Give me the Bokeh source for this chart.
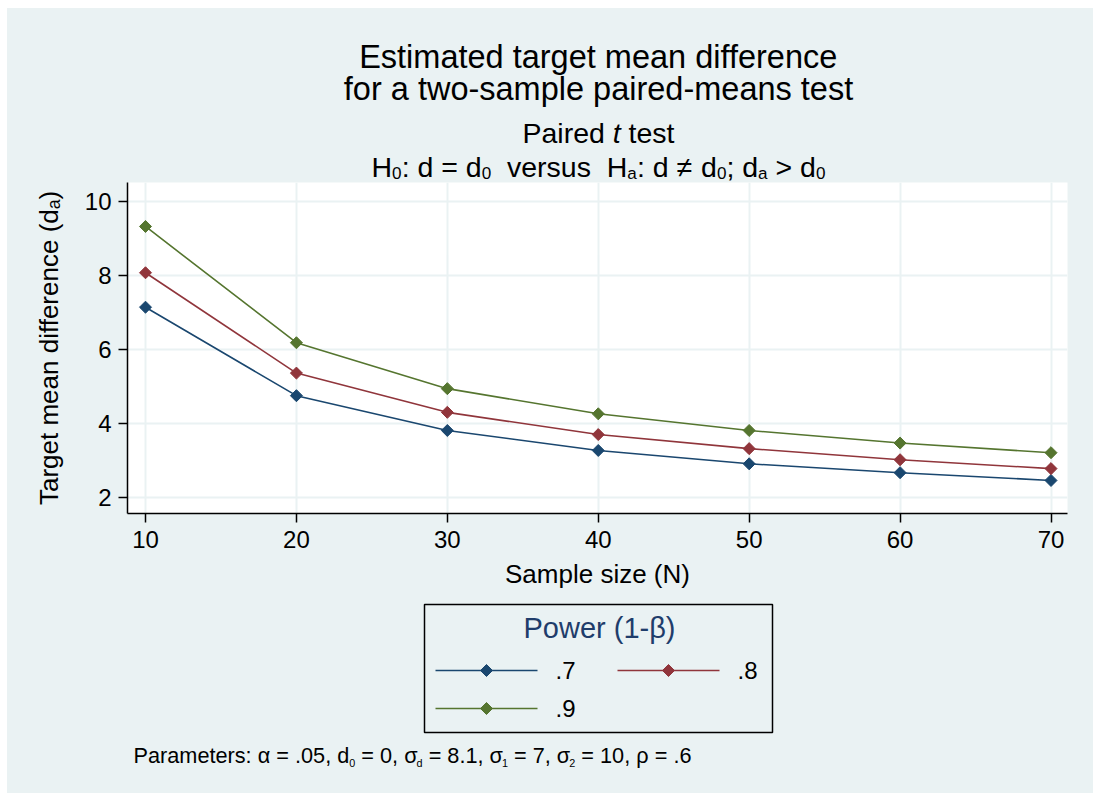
import math
from bokeh.plotting import figure
from bokeh.layouts import column
from bokeh.models import Range1d, FixedTicker, Label
from bokeh.embed import file_html
from bokeh.resources import INLINE

# ---------------- data ----------------
sample_size = [10, 20, 30, 40, 50, 60, 70]
power_labels = [".7", ".8", ".9"]
delta_p70 = [7.14, 4.75, 3.81, 3.27, 2.91, 2.67, 2.46]
delta_p80 = [8.07, 5.36, 4.30, 3.70, 3.32, 3.02, 2.78]
delta_p90 = [9.32, 6.18, 4.94, 4.26, 3.81, 3.47, 3.21]
x_ticks = [10, 20, 30, 40, 50, 60, 70]
y_ticks = [2, 4, 6, 8, 10]
series_colors = ["#1a476f", "#90353b", "#55752f"]

# ---------------- layout constants (image pixels) ----------------
BG = "#eaf2f3"
FONT = "Liberation Sans"
OX, OY = 7, 8                      # white strip left / top
FL, FR, FT, FB = 127, 1067, 182, 513   # plot frame
MB = 602                           # bottom of main plot block
PX10, PX70 = 145.0, 1050.5
PY10, PY2 = 200.8, 497.0
KB = 0.36                          # rendered baseline offset (fraction of font size)

xs = (PX70 - PX10) / 60.0
x0 = 10 - (PX10 - FL) / xs
x1 = 70 + (FR - PX70) / xs
ys = (PY2 - PY10) / 8.0
y1 = 10 + (PY10 - FT) / ys
y0 = 2 - (FB - PY2) / ys

W = {' ': 278, '!': 278, '(': 333, ')': 333, ',': 278, '-': 333, '.': 278,
     ':': 278, ';': 278, '=': 584, '>': 584, 'A': 667, 'E': 667, 'H': 722,
     'N': 722, 'P': 667, 'S': 667, 'T': 611, 'a': 556, 'b': 556, 'c': 500,
     'd': 556, 'e': 556, 'f': 278, 'g': 556, 'h': 556, 'i': 222, 'j': 222,
     'k': 500, 'l': 222, 'm': 833, 'n': 556, 'o': 556, 'p': 556, 'q': 556,
     'r': 333, 's': 500, 't': 278, 'u': 556, 'v': 500, 'w': 722, 'x': 500,
     'y': 500, 'z': 500, 'α': 578, 'β': 575, 'σ': 571, 'ρ': 578, '≠': 584}
for _d in "0123456789":
    W[_d] = 556


def tw(s, size):
    return sum(W.get(c, 556) for c in s) / 1000.0 * size


def panel(xa, xb, ya, yb):
    """A plain text panel whose data coordinates are the image's pixels."""
    f = figure(width=xb - xa, height=yb - ya,
               x_range=Range1d(xa, xb), y_range=Range1d(yb, ya),
               x_axis_type=None, y_axis_type=None,
               output_backend="svg", toolbar_location=None,
               min_border=0, min_border_left=0, min_border_right=0,
               min_border_top=0, min_border_bottom=0,
               background_fill_color=BG, border_fill_color=BG,
               outline_line_color=None, frame_align=False)
    f.xgrid.visible = False
    f.ygrid.visible = False
    return f


def rich(f, pieces, px, py, size, align="left", color="black", sub_scale=0.6, sub_drop=2):
    """pieces: (text, kind) with kind n = normal, i = italic, s = subscript.
    py is the wanted baseline. Words are placed one by one so that the
    spacing does not depend on whitespace handling."""
    sizes = [size * sub_scale if k == "s" else size for t, k in pieces]
    widths = [tw(t, sz) for (t, k), sz in zip(pieces, sizes)]
    total = sum(widths)
    cur = px - total / 2 if align == "center" else px
    for (t, k), sz in zip(pieces, sizes):
        base = py + (sub_drop if k == "s" else 0)
        word, wstart = "", cur
        for ch in t + " ":
            if ch == " ":
                if word:
                    f.add_layout(Label(x=wstart, y=base - KB * sz, text=word,
                                       text_font=FONT, text_font_size=f"{sz:.1f}px",
                                       text_font_style="italic" if k == "i" else "normal",
                                       text_color=color, text_align="left",
                                       text_baseline="alphabetic"))
                word = ""
                cur += tw(" ", sz)
                wstart = cur
            else:
                word += ch
                cur += tw(ch, sz)
        cur -= tw(" ", sz)   # the sentinel space


# ---------------- top: titles ----------------
top = panel(OX, 1093, OY, FT)
TCX = 598
rich(top, [("Estimated target mean difference", "n")], TCX, 68.5, 32.5, align="center")
rich(top, [("for a two-sample paired-means test", "n")], TCX, 100.5, 32.5, align="center")
rich(top, [("Paired ", "n"), ("t", "i"), (" test", "n")], TCX, 143, 28.5, align="center")
rich(top, [("H", "n"), ("0", "s"), (": d = d", "n"), ("0", "s"), ("  versus  H", "n"),
           ("a", "s"), (": d ≠ d", "n"), ("0", "s"), ("; d", "n"), ("a", "s"),
           (" > d", "n"), ("0", "s")], TCX, 177, 28.5, align="center")

# ---------------- main plot ----------------
p = figure(width=1093 - OX, height=MB - FT,
           x_range=Range1d(x0, x1), y_range=Range1d(y0, y1),
           output_backend="svg", toolbar_location=None,
           min_border_left=FL - OX, min_border_right=1093 - FR,
           min_border_top=0, min_border_bottom=MB - FB,
           background_fill_color="white", border_fill_color=BG,
           outline_line_color=None, frame_align=False)
for ax in (p.xaxis[0], p.yaxis[0]):
    ax.axis_line_color = "black"
    ax.axis_line_width = 1.5
    ax.major_tick_line_color = "black"
    ax.major_tick_line_width = 1.5
    ax.major_tick_out = 9
    ax.major_tick_in = 0
    ax.minor_tick_line_color = None
    ax.major_label_text_font = FONT
    ax.major_label_text_font_size = "24px"
    ax.major_label_text_color = "black"
    ax.axis_label_text_font = FONT
    ax.axis_label_text_font_size = "26px"
    ax.axis_label_text_font_style = "normal"
    ax.axis_label_text_color = "black"
p.xaxis.ticker = FixedTicker(ticks=x_ticks)
p.yaxis.ticker = FixedTicker(ticks=y_ticks)
p.xaxis.major_label_standoff = 8
p.yaxis.major_label_standoff = 7
p.xaxis.axis_label = "Sample size (N)"
p.xaxis.axis_label_standoff = 8
p.yaxis.axis_label = "Target mean difference (dₐ)"
p.yaxis.axis_label_standoff = 18
p.xgrid.grid_line_color = BG
p.ygrid.grid_line_color = BG
p.xgrid.grid_line_width = 2
p.ygrid.grid_line_width = 2

for vals, col in zip([delta_p70, delta_p80, delta_p90], series_colors):
    p.line(sample_size, vals, line_color=col, line_width=1.6)
    p.scatter(sample_size, vals, marker="square", angle=math.pi / 4, size=8.5,
              fill_color=col, line_color=col)

# ---------------- bottom: legend and note ----------------
bot = panel(OX, 1093, MB, 793)
bot.quad(left=[424], right=[772], top=[604], bottom=[732],
         fill_color=BG, line_color="black", line_width=1.5)
rich(bot, [("Power (1-β)", "n")], 599, 638, 29, align="center", color="#1f3d6b")
key_pos = [(435, 670), (617, 670), (435, 708)]   # left end / centre line of each key
for lab, col, (kx, ky) in zip(power_labels, series_colors, key_pos):
    bot.line([kx, kx + 102], [ky, ky], line_color=col, line_width=1.6)
    bot.scatter([kx + 51], [ky], marker="square", angle=math.pi / 4, size=8.5,
                fill_color=col, line_color=col)
    bot.add_layout(Label(x=kx + 120, y=ky, text=lab, text_font=FONT,
                         text_font_size="24px", text_color="black",
                         text_align="left", text_baseline="middle"))

rich(bot, [("Parameters: α = .05, d", "n"), ("0", "s"), (" = 0, σ", "n"), ("d", "s"),
           (" = 8.1, σ", "n"), ("1", "s"), (" = 7, σ", "n"), ("2", "s"),
           (" = 10, ρ = .6", "n")], 133, 763, 21.7, sub_scale=0.5, sub_drop=3)

layout = column(top, p, bot, margin=(OY, 0, 0, OX), styles={"background-color": BG})
open("out.html", "w").write(file_html(layout, INLINE))
